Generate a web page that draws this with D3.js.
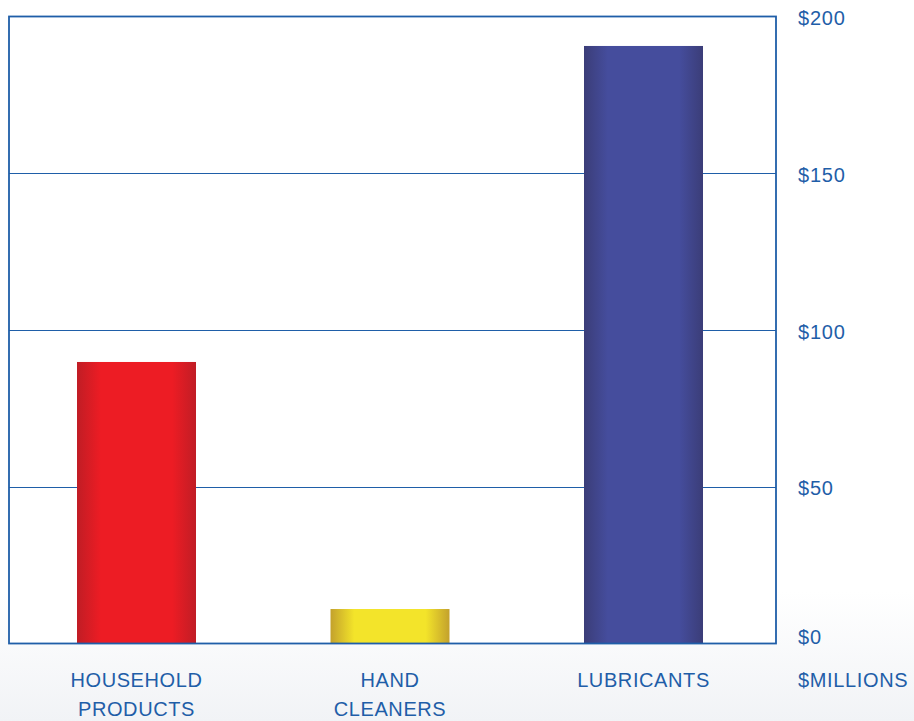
<!DOCTYPE html>
<html>
<head>
<meta charset="utf-8">
<script src="https://cdn.jsdelivr.net/npm/d3@7"></script>
<style>
  html, body { margin: 0; padding: 0; background: #fff; }
  svg { display: block; }
  text { font-family: "Liberation Sans", Arial, sans-serif; fill: #1f5ea8; }
</style>
</head>
<body>
<svg id="chart" width="914" height="721"></svg>
<script>
// Segment sales, $ millions
const categories = ["HOUSEHOLD PRODUCTS", "HAND CLEANERS", "LUBRICANTS"];
const categoryLines = [["HOUSEHOLD", "PRODUCTS"], ["HAND", "CLEANERS"], ["LUBRICANTS"]];
const values = [89.8, 11, 190.6];
const tickValues = [0, 50, 100, 150, 200];
const tickLabels = ["$0", "$50", "$100", "$150", "$200"];
const unitLabel = "$MILLIONS";

const barColors = [
  { edge: "#c01d25", mid: "#ed1c24" },
  { edge: "#c3a12c", mid: "#f3e42a" },
  { edge: "#3b3d78", mid: "#454d9d" }
];

const W = 914, H = 721;
const plot = { left: 9, right: 776, top: 16.5, bottom: 643.5 };
const blue = "#1f5ea8";

const svg = d3.select("#chart");
const defs = svg.append("defs");

// soft grey wash behind the lower part of the page
const bg = defs.append("linearGradient").attr("id", "bg").attr("x1", 0).attr("y1", 0).attr("x2", 0).attr("y2", 1);
bg.append("stop").attr("offset", "0%").attr("stop-color", "#ffffff");
bg.append("stop").attr("offset", "82%").attr("stop-color", "#ffffff");
bg.append("stop").attr("offset", "100%").attr("stop-color", "#f1f3f6");
svg.append("rect").attr("width", W).attr("height", H).attr("fill", "url(#bg)");

// cylinder-like shading on each bar
barColors.forEach((c, i) => {
  const g = defs.append("linearGradient").attr("id", "bar" + i).attr("x1", 0).attr("x2", 1).attr("y1", 0).attr("y2", 0);
  [[0, c.edge], [0.2, c.mid], [0.8, c.mid], [1, c.edge]].forEach(([o, col]) =>
    g.append("stop").attr("offset", o * 100 + "%").attr("stop-color", col));
});

// bars span from the first bar's left edge to the last bar's right edge
const x = d3.scaleBand().domain(categories).range([77, 703]).paddingInner(0.5306).paddingOuter(0);
const y = d3.scaleLinear().domain([0, 200]).range([plot.bottom, plot.top]);

// plot background
svg.append("rect")
  .attr("x", plot.left).attr("y", plot.top)
  .attr("width", plot.right - plot.left).attr("height", plot.bottom - plot.top)
  .attr("fill", "#fff");

// horizontal gridlines
svg.append("g").selectAll("line").data(tickValues.filter(v => v > 0 && v < 200)).join("line")
  .attr("x1", plot.left).attr("x2", plot.right)
  .attr("y1", d => Math.round(y(d)) + 0.5).attr("y2", d => Math.round(y(d)) + 0.5)
  .attr("stroke", blue).attr("stroke-width", 1);

// bars
svg.append("g").selectAll("rect").data(values).join("rect")
  .attr("x", (d, i) => x(categories[i]))
  .attr("width", x.bandwidth())
  .attr("y", d => y(d))
  .attr("height", d => y(0) - y(d))
  .attr("fill", (d, i) => `url(#bar${i})`);

// frame
svg.append("rect")
  .attr("x", plot.left).attr("y", plot.top)
  .attr("width", plot.right - plot.left).attr("height", plot.bottom - plot.top)
  .attr("fill", "none").attr("stroke", blue).attr("stroke-width", 1.8);

// right-hand value axis labels
const yAxis = d3.axisRight(y).tickValues(tickValues).tickSize(0).tickPadding(0)
  .tickFormat((d, i) => tickLabels[i]);
const ya = svg.append("g").attr("transform", `translate(798,0)`).call(yAxis);
ya.select(".domain").remove();
ya.selectAll("text")
  .attr("font-size", 20).attr("fill", blue)
  .attr("font-family", "Liberation Sans, Arial, sans-serif")
  .attr("letter-spacing", 0.8)
  .attr("dy", d => d === 0 ? "0em" : "0.4em");

// category labels
const cg = svg.append("g");
categories.forEach((c, i) => {
  const cx = x(c) + x.bandwidth() / 2;
  const t = cg.append("text")
    .attr("x", cx)
    .attr("y", 687)
    .attr("text-anchor", "middle")
    .attr("font-size", 20)
    .attr("letter-spacing", 0.6);
  categoryLines[i].forEach((line, j) =>
    t.append("tspan").attr("x", cx).attr("dy", j === 0 ? 0 : 29).text(line));
});

svg.append("text")
  .attr("x", 798).attr("y", 687)
  .attr("font-size", 20).attr("letter-spacing", 0.65)
  .text(unitLabel);
</script>
</body>
</html>
